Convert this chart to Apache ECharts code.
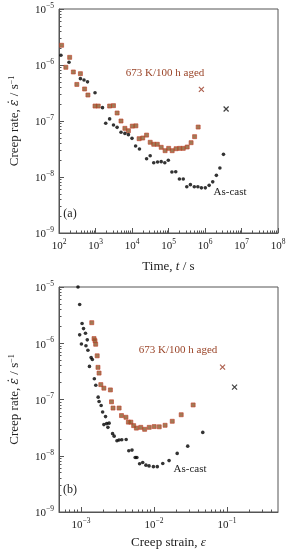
<!DOCTYPE html>
<html>
<head>
<meta charset="utf-8">
<script src="https://cdn.jsdelivr.net/npm/echarts@6/dist/echarts.min.js"></script>
<style>
html,body{margin:0;padding:0;background:#fff;}
#c{width:289px;height:550px;}
</style>
</head>
<body>
<div id="c"></div>
<script>
// ---------- Panel (a): creep rate vs time ----------
const agedTime = [118,154,196,247,308,386,503,620,970,1190,2440,3110,3910,5000,6390,7970,10190,12790,15670,19650,25100,31500,39400,49400,63100,80700,101000,126000,161000,203000,254000,325000,416000,519000,650000];
const agedRateA = [2.25e-6,9.1e-7,1.37e-6,7.5e-7,4.5e-7,7.0e-7,3.73e-7,2.91e-7,1.85e-7,1.85e-7,1.85e-7,1.88e-7,1.39e-7,1.0e-7,7.4e-8,6.7e-8,8.1e-8,8.2e-8,4.83e-8,4.97e-8,5.6e-8,4.17e-8,3.84e-8,3.84e-8,3.39e-8,2.95e-8,3.25e-8,2.95e-8,3.2e-8,3.25e-8,3.25e-8,3.43e-8,4.1e-8,5.25e-8,7.8e-8];
const agedRuptureTime = [796000];
const agedRuptureRateA = [3.68e-7];

const castTime = [113,188,386,484,604,970,1556,1905,2440,3110,3910,5000,6390,7970,10000,12550,16000,25100,31500,39400,50200,63100,79200,98800,124000,158000,199000,254000,317000,398000,509000,638000,796000,1020000,1300000,1630000,2050000,2560000,3210000];
const castRateA = [1.49e-6,1.12e-6,5.7e-7,5.4e-7,5.0e-7,3.2e-7,1.73e-7,9.1e-8,1.09e-7,8.5e-8,7.7e-8,6.3e-8,6.0e-8,5.7e-8,4.9e-8,3.58e-8,3.16e-8,2.12e-8,2.4e-8,1.8e-8,1.85e-8,1.88e-8,1.8e-8,1.99e-8,1.23e-8,1.24e-8,9.2e-9,9.2e-9,6.7e-9,7.3e-9,6.7e-9,6.7e-9,6.4e-9,6.4e-9,7.1e-9,8.2e-9,1.07e-8,1.45e-8,2.54e-8];
const castRuptureTime = [3790000];
const castRuptureRateA = [1.64e-7];

// ---------- Panel (b): creep rate vs strain ----------
const agedStrain = [1.406e-3,1.51e-3,1.556e-3,1.59e-3,1.667e-3,1.71e-3,1.77e-3,1.87e-3,2.06e-3,2.53e-3,2.62e-3,2.75e-3,3.33e-3,3.59e-3,4.13e-3,4.46e-3,4.82e-3,5.27e-3,5.74e-3,6.59e-3,7.45e-3,8.61e-3,1.007e-2,1.18e-2,1.42e-2,1.78e-2,2.36e-2,3.44e-2];
const agedRateB = [2.32e-6,1.21e-6,1.11e-6,9.6e-7,5.98e-7,3.73e-7,2.95e-7,1.84e-7,1.59e-7,1.48e-7,9.1e-8,7.05e-8,7.05e-8,5.18e-8,4.83e-8,3.96e-8,3.96e-8,3.43e-8,3.1e-8,3.2e-8,2.95e-8,3.2e-8,3.3e-8,3.27e-8,3.48e-8,4.1e-8,5.36e-8,8.0e-8];
const agedRuptureStrain = [0.087];
const agedRuptureRateB = [3.77e-7];

const castStrain = [9.1e-4,9.6e-4,1.035e-3,1.084e-3,1.153e-3,9.6e-4,1.22e-3,1.014e-3,1.17e-3,1.245e-3,1.377e-3,1.432e-3,1.306e-3,1.524e-3,1.596e-3,1.72e-3,1.77e-3,1.89e-3,1.98e-3,2.17e-3,2.06e-3,2.25e-3,2.43e-3,2.34e-3,2.71e-3,2.85e-3,3.11e-3,3.32e-3,3.62e-3,4.16e-3,4.52e-3,5.0e-3,5.53e-3,5.83e-3,6.35e-3,7.01e-3,7.76e-3,8.56e-3,9.82e-3,1.11e-2,1.32e-2,1.61e-2,2.08e-2,2.90e-2,4.66e-2];
const castRateB = [1.0e-5,4.9e-6,2.25e-6,1.82e-6,1.51e-6,1.41e-6,1.15e-6,9.7e-7,9.0e-7,7.5e-7,5.56e-7,5.14e-7,3.88e-7,2.34e-7,1.79e-7,1.10e-7,9.2e-8,7.8e-8,6.0e-8,4.97e-8,3.58e-8,3.73e-8,3.8e-8,3.2e-8,2.47e-8,2.23e-8,1.85e-8,1.91e-8,1.93e-8,1.95e-8,1.23e-8,1.26e-8,9.3e-9,9.3e-9,7.2e-9,7.6e-9,6.8e-9,6.6e-9,6.4e-9,6.4e-9,7.3e-9,8.2e-9,1.1e-8,1.48e-8,2.6e-8];
const castRuptureStrain = [0.127];
const castRuptureRateB = [1.66e-7];

// ---------- Axis decades (tick labels) ----------
const timeExps = [2,3,4,5,6,7,8];
const rateExps = [-9,-8,-7,-6,-5];
const strainExps = [-3,-2,-1];
const strainRange = [5e-4, 0.5];

// ---------- helpers ----------
const L = Math.log10;
const pts = (xs, ys) => xs.map((x, i) => [L(x), L(ys[i])]);
function minorTicks(lo, hi) {
  const out = [];
  for (let e = Math.floor(lo) - 1; e <= Math.ceil(hi); e++) {
    for (let m = 2; m <= 9; m++) {
      const v = e + L(m);
      if (v > lo + 1e-6 && v < hi - 1e-6) out.push(v);
    }
  }
  return out;
}
const fmtPow = v => {
  const e = Math.round(v);
  return '{b|10}{s|' + String(e).replace('-', '\u2212') + '}';
};
const FONT = 'Liberation Serif';
const richLab = {
  b: {fontFamily: FONT, fontSize: 11, color: '#222', lineHeight: 14, verticalAlign: 'bottom'},
  s: {fontFamily: FONT, fontSize: 7.5, color: '#222', lineHeight: 8, verticalAlign: 'top'}
};
const AX = '#555';

function mainAxis(opts) {
  return Object.assign({
    type: 'value',
    axisLine: {show: true, onZero: false, lineStyle: {color: AX, width: 1}},
    axisTick: {show: true, inside: true, length: 5, lineStyle: {color: AX}, customValues: opts.major},
    axisLabel: {show: true, customValues: opts.major, formatter: fmtPow, rich: richLab, margin: 5, color: '#222'},
    splitLine: {show: false},
    nameLocation: 'middle',
    nameTextStyle: {fontFamily: FONT, fontSize: 13, color: '#222', rich: {
      i: {fontFamily: FONT, fontSize: 13, fontStyle: 'italic', color: '#222'},
      e: {fontFamily: 'DejaVu Serif', fontSize: 12, fontStyle: 'italic', color: '#222'},
      n: {fontFamily: FONT, fontSize: 13, color: '#222'},
      s: {fontFamily: FONT, fontSize: 8, color: '#222', verticalAlign: 'top', lineHeight: 8}
    }}
  }, opts.extra);
}
function minorAxis(opts) {
  return Object.assign({
    type: 'value',
    axisLine: {show: false, onZero: false},
    axisTick: {show: true, inside: true, length: 2.5, lineStyle: {color: AX}, customValues: opts.minor},
    axisLabel: {show: false},
    splitLine: {show: false}
  }, opts.extra);
}

const sLo = L(strainRange[0]), sHi = L(strainRange[1]);
const yTitle = '{n|Creep rate, }{e|\u03B5\u0307}{n| / s}{s|\u22121}';

const option = {
  animation: false,
  backgroundColor: '#fff',
  grid: [
    {left: 53, top: 9, width: 225, height: 224, show: true, borderColor: AX, borderWidth: 1, backgroundColor: 'transparent'},
    {left: 53, top: 287, width: 225, height: 225, show: true, borderColor: AX, borderWidth: 1, backgroundColor: 'transparent'}
  ],
  xAxis: [
    mainAxis({major: timeExps, extra: {gridIndex: 0, position: 'bottom', min: 2, max: 8,
      name: '{n|Time, }{i|t}{n| / s}', nameGap: 27}}),
    minorAxis({minor: minorTicks(2, 8), extra: {gridIndex: 0, position: 'bottom', min: 2, max: 8}}),
    mainAxis({major: strainExps, extra: {gridIndex: 1, position: 'bottom', min: sLo, max: sHi,
      name: '{n|Creep strain, }{i|\u03B5}', nameGap: 24}}),
    minorAxis({minor: minorTicks(sLo, sHi), extra: {gridIndex: 1, position: 'bottom', min: sLo, max: sHi}})
  ],
  yAxis: [
    mainAxis({major: rateExps, extra: {gridIndex: 0, position: 'left', min: -9, max: -5, name: yTitle, nameGap: 38, nameRotate: 90}}),
    minorAxis({minor: minorTicks(-9, -5), extra: {gridIndex: 0, position: 'left', min: -9, max: -5}}),
    mainAxis({major: rateExps, extra: {gridIndex: 1, position: 'left', min: -9, max: -5, name: yTitle, nameGap: 38, nameRotate: 90}}),
    minorAxis({minor: minorTicks(-9, -5), extra: {gridIndex: 1, position: 'left', min: -9, max: -5}})
  ],
  series: [],
  graphic: []
};

const AGED_FILL = '#8a5a2c';
const AGED_EDGE = '#c2412a';
const CROSS = 'path://M0,0L10,10M10,0L0,10';

function addPanel(xi, yi, agedD, castD, agedX, castX) {
  option.series.push(
    {type: 'scatter', xAxisIndex: xi, yAxisIndex: yi, data: agedD, symbol: 'rect', symbolSize: 4,
      itemStyle: {color: AGED_FILL, borderColor: AGED_EDGE, borderWidth: 0.8}, z: 3},
    {type: 'scatter', xAxisIndex: xi, yAxisIndex: yi, data: castD, symbol: 'circle', symbolSize: 3.6,
      itemStyle: {color: '#000'}, z: 4},
    {type: 'scatter', xAxisIndex: xi, yAxisIndex: yi, data: agedX, symbol: CROSS, symbolSize: 5,
      itemStyle: {color: 'transparent', borderColor: '#9a3a24', borderWidth: 1.2}},
    {type: 'scatter', xAxisIndex: xi, yAxisIndex: yi, data: castX, symbol: CROSS, symbolSize: 5,
      itemStyle: {color: 'transparent', borderColor: '#111', borderWidth: 1.2}}
  );
}
addPanel(0, 0, pts(agedTime, agedRateA), pts(castTime, castRateA), pts(agedRuptureTime, agedRuptureRateA), pts(castRuptureTime, castRuptureRateA));
addPanel(2, 2, pts(agedStrain, agedRateB), pts(castStrain, castRateB), pts(agedRuptureStrain, agedRuptureRateB), pts(castRuptureStrain, castRuptureRateB));

function txt(x, y, s, color, size) {
  option.graphic.push({type: 'text', x: x, y: y, style: {text: s, fill: color, font: size + 'px "' + FONT + '"', textAlign: 'center', textVerticalAlign: 'middle'}});
}
txt(165, 73, '673 K/100 h aged', '#9a4428', 11);
txt(230, 192, 'As-cast', '#222', 11);
txt(70, 214, '(a)', '#222', 12);
txt(178, 350, '673 K/100 h aged', '#9a4428', 11);
txt(190, 469, 'As-cast', '#222', 11);
txt(70, 490, '(b)', '#222', 12);

const chart = echarts.init(document.getElementById('c'), null, {renderer: 'canvas'});
chart.setOption(option);
</script>
</body>
</html>
